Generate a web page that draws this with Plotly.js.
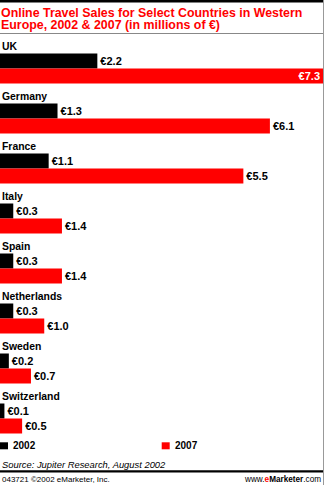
<!DOCTYPE html>
<html>
<head>
<meta charset="utf-8">
<script src="https://cdn.plot.ly/plotly-3.0.1.min.js"></script>
<style>html,body{margin:0;padding:0;background:#fff;}#chart{width:324px;height:485px;}</style>
</head>
<body>
<div id="chart"></div>
<script>
// ---- data ----
const countries = ['UK', 'Germany', 'France', 'Italy', 'Spain', 'Netherlands', 'Sweden', 'Switzerland'];
const sales2002 = [2.2, 1.3, 1.1, 0.3, 0.3, 0.3, 0.2, 0.1];
const sales2007 = [7.3, 6.1, 5.5, 1.4, 1.4, 1.0, 0.7, 0.5];
const seriesNames = ['2002', '2007'];
const seriesColors = ['#000000', '#ff0000'];
const titleLines = ['Online Travel Sales for Select Countries in Western', 'Europe, 2002 & 2007 (in millions of €)'];
const sourceText = 'Source: Jupiter Research, August 2002';
const footerLeft = '043721 ©2002 eMarketer, Inc.';

const FONT = 'Liberation Sans, Arial, Helvetica, sans-serif';
const RED = '#ff0000';

// pixel helpers (plot area: top 36, height 400, width 323)
const T = 36, H = 400, W = 323;
const py = p => (T + H - p) / H;
const px = p => p / W;

const trace2002 = {
  type: 'bar', orientation: 'h', name: seriesNames[0],
  y: countries, x: sales2002,
  width: 0.3, offset: -0.15,
  marker: {color: seriesColors[0], line: {width: 0}},
  texttemplate: '€%{x:.1f}', textposition: 'outside',
  outsidetextfont: {family: FONT, size: 11, color: '#000', weight: 'bold'},
  constraintext: 'none', cliponaxis: false, hoverinfo: 'x+y'
};
const trace2007 = {
  type: 'bar', orientation: 'h', name: seriesNames[1],
  y: countries, x: sales2007,
  width: 0.3, offset: 0.15,
  marker: {color: seriesColors[1], line: {width: 0}},
  texttemplate: '€%{x:.1f}',
  textposition: sales2007.map((v, i) => i === 0 ? 'inside' : 'outside'),
  insidetextanchor: 'end',
  insidetextfont: {family: FONT, size: 11, color: '#fff', weight: 'bold'},
  outsidetextfont: {family: FONT, size: 11, color: '#000', weight: 'bold'},
  constraintext: 'none', cliponaxis: false, hoverinfo: 'x+y'
};

const annotations = countries.map(c => ({
  text: c, x: 0, xref: 'x', y: c, yref: 'y', yshift: 15,
  xanchor: 'left', yanchor: 'middle', showarrow: false,
  font: {family: FONT, size: 10.4, color: '#000', weight: 'bold'}
}));
// legend (squares drawn as shapes below)
const legendX = [11, 173];
seriesNames.forEach((n, i) => annotations.push({
  text: n, x: px(legendX[i]), xref: 'paper', y: py(445.7), yref: 'paper',
  xanchor: 'left', yanchor: 'middle', showarrow: false,
  font: {family: FONT, size: 10, color: '#000', weight: 'bold'}
}));
annotations.push({
  text: sourceText, x: 0, xref: 'paper', y: py(464), yref: 'paper',
  xanchor: 'left', yanchor: 'middle', showarrow: false,
  font: {family: FONT, size: 9.4, color: '#000', style: 'italic'}
});
annotations.push({
  text: footerLeft, x: 0, xref: 'paper', y: py(479), yref: 'paper',
  xanchor: 'left', yanchor: 'middle', showarrow: false,
  font: {family: FONT, size: 8, color: '#000'}
});
annotations.push({
  text: 'www.<span style="color:' + RED + ';font-weight:bold">e</span><b>Marketer</b>.com',
  x: 1, xref: 'paper', y: py(479), yref: 'paper',
  xanchor: 'right', yanchor: 'middle', showarrow: false,
  font: {family: FONT, size: 8.2, color: '#000'}
});

const shapes = [
  {type: 'rect', xref: 'paper', yref: 'paper', x0: 0, x1: px(324), y0: py(0), y1: py(2.5), fillcolor: '#000', line: {width: 0}},
  {type: 'line', xref: 'paper', yref: 'paper', x0: 0, x1: px(324), y0: py(33.5), y1: py(33.5), line: {color: '#888', width: 1}},
  {type: 'rect', xref: 'paper', yref: 'paper', x0: 0, x1: px(324), y0: py(470.3), y1: py(472.5), fillcolor: '#000', line: {width: 0}},
  {type: 'line', xref: 'paper', yref: 'paper', x0: px(323.5), x1: px(323.5), y0: py(0), y1: py(485), line: {color: '#999', width: 1}}
];
const legendSq = [0, 161.7];
seriesColors.forEach((c, i) => shapes.push({
  type: 'rect', xref: 'paper', yref: 'paper', x0: px(legendSq[i]), x1: px(legendSq[i] + 8),
  y0: py(442.3), y1: py(449.3), fillcolor: c, line: {width: 0}
}));

const layout = {
  width: 324, height: 485,
  margin: {l: 0, r: 1, t: T, b: 485 - T - H, pad: 0, autoexpand: false},
  paper_bgcolor: '#fff', plot_bgcolor: '#fff',
  font: {family: FONT},
  title: {
    text: titleLines.map(l => '<span style="font-size:12.4px">' + l + '</span>').join('<br>'),
    font: {family: FONT, size: 9.6, color: RED, weight: 'bold'},
    xref: 'container', x: 1 / 324, xanchor: 'left',
    yref: 'container', y: 1 - 16.5 / 485, yanchor: 'top', pad: {t: 0, b: 0, l: 0, r: 0}
  },
  barmode: 'overlay',
  xaxis: {range: [0, 7.3], visible: false, fixedrange: true},
  yaxis: {type: 'category', categoryarray: countries, range: [7.5, -0.5], visible: false, fixedrange: true},
  showlegend: false,
  annotations: annotations,
  shapes: shapes
};

Plotly.newPlot('chart', [trace2002, trace2007], layout, {displayModeBar: false, staticPlot: true});
</script>
</body>
</html>
